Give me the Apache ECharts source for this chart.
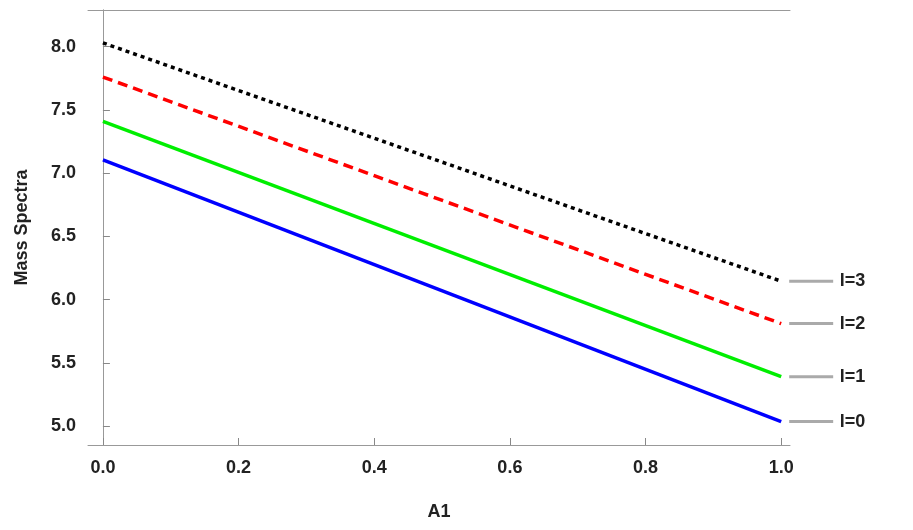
<!DOCTYPE html><html><head><meta charset="utf-8"><script src="https://cdn.jsdelivr.net/npm/echarts@6/dist/echarts.min.js"></script></head><body style="margin:0"><div id="c" style="width:913px;height:530px"></div><script>
const xs=[0,1];
const l0=[7.105,5.035];
const l1=[7.41,5.39];
const l2=[7.76,5.81];
const l3=[8.03,6.145];
const names=['l=0','l=1','l=2','l=3'];
const colors=['#0000ff','#00ee00','#ff0000','#000000'];
const types=['solid','solid',[10,6],[4,4]];
const data=[l0,l1,l2,l3];
const ax={type:'value',axisLine:{show:true,lineStyle:{color:'#999'}},splitLine:{show:false},axisTick:{show:true,inside:true,length:7,lineStyle:{color:'#888'}}};
const fnt={fontFamily:'Liberation Sans',fontWeight:'bold',fontSize:18,color:'#222'};
const xt=[0,0.2,0.4,0.6,0.8,1], yt=[5,5.5,6,6.5,7,7.5,8];
const ch=echarts.init(document.getElementById('c'));
ch.setOption({animation:false,
grid:{left:88,right:123,top:10,bottom:85},
xAxis:[Object.assign({},ax,{min:-0.022,max:1.013,name:'A1',nameLocation:'middle',nameGap:58,nameTextStyle:fnt,axisLabel:Object.assign({},fnt,{margin:14,formatter:v=>v.toFixed(1),customValues:xt}),axisTick:Object.assign({},ax.axisTick,{customValues:xt})}),
 Object.assign({},ax,{position:'top',min:-0.022,max:1.013,axisLabel:{show:false},axisTick:{show:false}})],
yAxis:[Object.assign({},ax,{min:4.85,max:8.29,name:'Mass Spectra',nameLocation:'middle',nameGap:57,nameTextStyle:fnt,axisLabel:Object.assign({},fnt,{margin:12,formatter:v=>v.toFixed(1),customValues:yt}),axisTick:Object.assign({},ax.axisTick,{customValues:yt})}),
 Object.assign({},ax,{position:'right',min:4.85,max:8.29,axisLabel:{show:false},axisTick:{show:false}})],
series:data.map((d,i)=>({type:'line',showSymbol:false,data:xs.map((x,j)=>[x,d[j]]),lineStyle:{color:colors[i],width:3.5,type:types[i]},
 endLabel:{show:true,distance:8,formatter:'{b|}  {t|'+names[i]+'}',rich:{b:{width:44,height:3,backgroundColor:'#aaa'},t:fnt}}}))
});
</script></body></html>
